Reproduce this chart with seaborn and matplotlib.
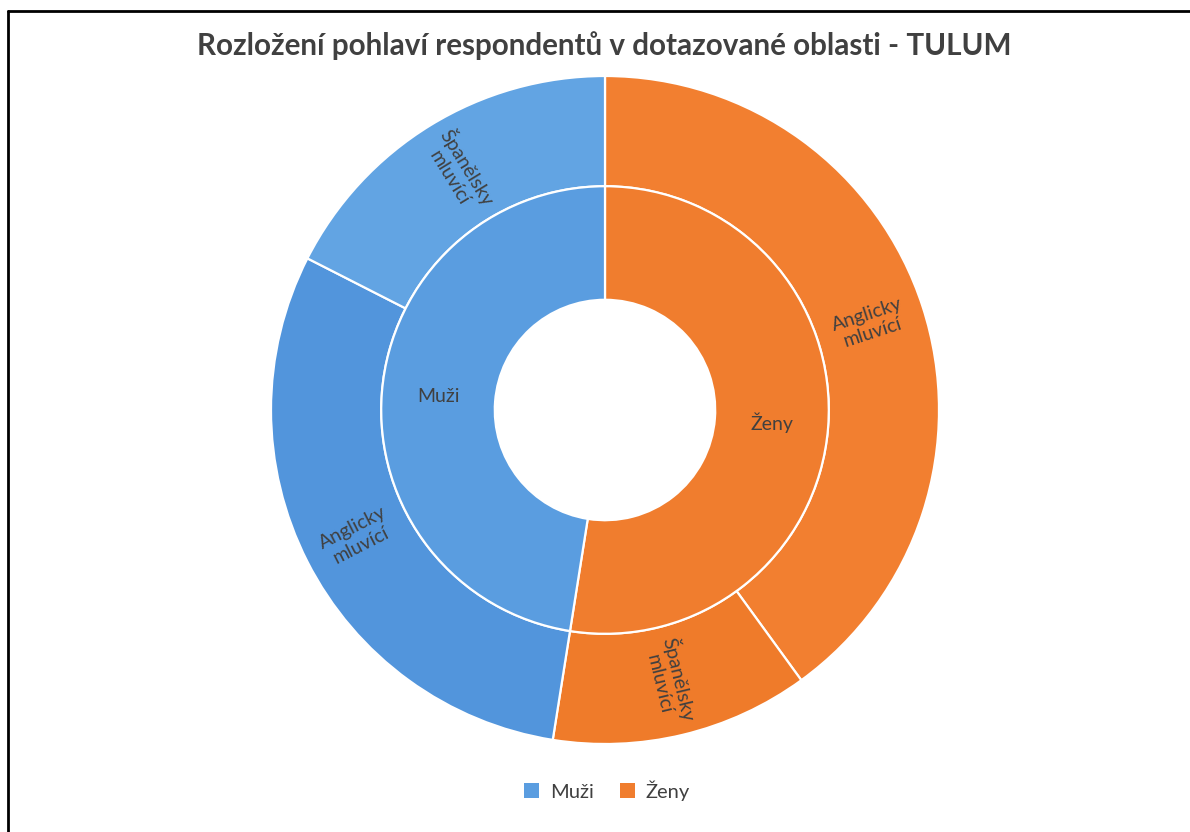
import matplotlib.pyplot as plt
import numpy as np
import seaborn as sns
from matplotlib.lines import Line2D
from matplotlib.patches import Patch

sns.set_theme(style='white')
plt.rcParams['font.family'] = ['Lato', 'DejaVu Sans']

# data, clockwise from 12 o'clock
genders = ['Ženy', 'Muži']
outer_labels = ['Anglicky\nmluvící', 'Španělsky\nmluvící', 'Anglicky\nmluvící', 'Španělsky\nmluvící']
outer_gender = ['Ženy', 'Ženy', 'Muži', 'Muži']
outer_values = [32, 10, 24, 14]

inner_values = [sum(v for v, g in zip(outer_values, outer_gender) if g == gg) for gg in genders]

gender_colors = {'Muži': '#5a9de0', 'Ženy': '#f07d2e'}
outer_colors = ['#f27f30', '#ef7b2a', '#5295dc', '#62a4e3']
text_col = '#404040'

fig = plt.figure(figsize=(11.9, 8.32), dpi=100)
# square axes centred on the donut (pixel based placement)
W, H = 1190, 832
cx, cy, R = 605, 832 - 410, 334
half = 360
ax = fig.add_axes([(cx - half) / W, (cy - half) / H, 2 * half / W, 2 * half / H])
lim = half / R

wedges_out, _ = ax.pie(outer_values, radius=1.0, startangle=90, counterclock=False,
                       colors=outer_colors,
                       wedgeprops=dict(width=0.33, edgecolor='white', linewidth=1.6))
wedges_in, _ = ax.pie(inner_values, radius=0.67, startangle=90, counterclock=False,
                      colors=[gender_colors[g] for g in genders],
                      wedgeprops=dict(width=0.34, edgecolor='white', linewidth=1.6))
ax.set_xlim(-lim, lim)
ax.set_ylim(-lim, lim)
ax.set_aspect('equal')
ax.axis('off')


def radial_label(w, text, r, rotate=True):
    a = (w.theta1 + w.theta2) / 2
    x, y = r * np.cos(np.radians(a)), r * np.sin(np.radians(a))
    rot = a % 360
    if 90 < rot < 270:
        rot -= 180
    if rot > 180:
        rot -= 360
    ax.text(x, y, text, ha='center', va='center', rotation=rot if rotate else 0,
            rotation_mode='anchor', fontsize=14, color=text_col, linespacing=1.15)


for w, lab in zip(wedges_out, outer_labels):
    radial_label(w, lab, 0.835)
for w, lab in zip(wedges_in, genders):
    radial_label(w, lab, 0.5, rotate=False)

fig.text(0.508, 0.945, 'Rozložení pohlaví respondentů v dotazované oblasti - TULUM',
         ha='center', va='center', fontsize=21.3, fontweight='bold', color='#404040')

handles = [Patch(facecolor=gender_colors[g], edgecolor='none') for g in ['Muži', 'Ženy']]
fig.legend(handles, ['Muži', 'Ženy'], loc='center', bbox_to_anchor=(0.51, 0.05),
           ncol=2, frameon=False, fontsize=14.5, handlelength=0.75, handleheight=0.75,
           columnspacing=1.3, handletextpad=0.55, labelcolor=text_col)

# frame of the screenshot (left and top edge)
fig.add_artist(Line2D([8 / W, 8 / W], [0, 1 - 11 / H], color='black', lw=2, transform=fig.transFigure))
fig.add_artist(Line2D([8 / W, 1], [1 - 11 / H, 1 - 11 / H], color='black', lw=2, transform=fig.transFigure))

plt.savefig('out.png', dpi=100, facecolor='white')
